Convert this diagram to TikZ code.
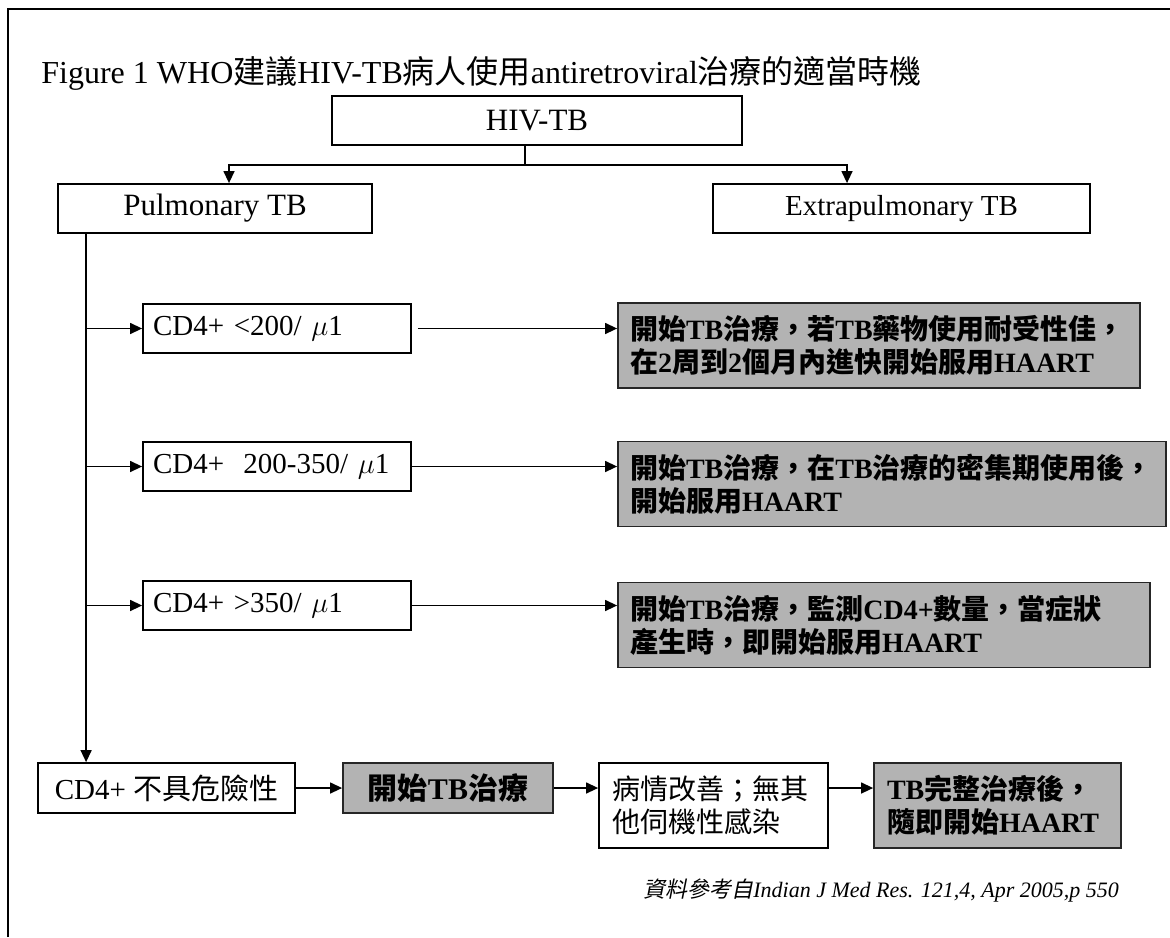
\documentclass[tikz,border=0pt]{standalone}
\usepackage{fontspec}
\setmainfont{Liberation Serif}
\newfontfamily\cjk{Noto Sans CJK TC}
\newfontfamily\cjkslant[FakeSlant=0.2]{Noto Sans CJK TC}
\usetikzlibrary{arrows.meta,positioning}
\definecolor{boxgray}{RGB}{179,179,179}
\newcommand{\zh}[1]{{\cjk #1}}

\begin{document}
\begin{tikzpicture}[x=0.5pt,y=-0.5pt,
    plainbox/.style={draw,line width=0.9pt,inner sep=0pt,minimum height=24.5pt,
      font=\fontsize{15.5}{17}\selectfont},
    leftbox/.style={plainbox,align=left,inner xsep=5pt,text width=124pt,
      font=\fontsize{14.5}{16.5}\selectfont},
    graybox/.style={draw=black!85,fill=boxgray,line width=0.9pt,align=left,
      inner xsep=6pt,inner ysep=0pt,minimum height=42.5pt,
      font=\fontsize{14}{16.5}\selectfont\bfseries},
    link/.style={line width=0.7pt,-{Triangle[length=6pt,width=5.5pt]}}]
    \useasboundingbox (0,0) rectangle (1170,937);

    % Frame round the figure (left and top edges only)
    \draw[line width=0.8pt] (8,937) -- (8,9) -- (1170,9);

    % Title
    \node[anchor=base west,inner sep=0pt,font=\fontsize{16}{18}\selectfont] (title) at (41,83)
      {Figure 1 WHO\zh{建議}HIV-TB\zh{病人使用}antiretroviral\zh{治療的適當時機}};

    % Top level: HIV-TB and its two kinds
    \node[plainbox,minimum width=205pt] (hiv) at (537,120.5) {HIV-TB};
    \node[plainbox,minimum width=157pt] (pulm) at (215,208.5) {Pulmonary TB};
    \node[plainbox,minimum width=188.5pt,font=\fontsize{14.5}{16.5}\selectfont] (extra) at (901.5,208.5) {Extrapulmonary TB};

    \coordinate (fork) at ([xshift=-6pt,yshift=-9.5pt]hiv.south);
    \draw[line width=0.7pt] ([xshift=-6pt]hiv.south) -- (fork);
    \draw[link] (fork) -| ([xshift=7pt]pulm.north);
    \draw[link] (fork) -| ([xshift=-27.25pt]extra.north);

    % CD4+ counts under pulmonary TB
    \node[leftbox] (cd4low) at (277,328.5) {\mbox{CD4+ <200/ $\mu$1}};
    \node[leftbox] (cd4mid) at (277,466.5) {\mbox{CD4+\ \ 200-350/ $\mu$1}};
    \node[leftbox] (cd4high) at (277,605.5) {\mbox{CD4+ >350/ $\mu$1}};

    % What to do for each count
    \node[graybox,text width=249pt] (dolow) at (879,345.5)
      {\zh{開始}TB\zh{治療，若}TB\zh{藥物使用耐受性佳，}\\\zh{在}2\zh{周到}2\zh{個月內進快開始服用}HAART};
    \node[graybox,text width=262pt] (domid) at (892,484)
      {\zh{開始}TB\zh{治療，在}TB\zh{治療的密集期使用後，}\\\zh{開始服用}HAART};
    \node[graybox,text width=254pt] (dohigh) at (884,625)
      {\zh{開始}TB\zh{治療，監測}CD4+\zh{數量，當症狀}\\\zh{產生時，即開始服用}HAART};

    % Trunk down the left side with its branches
    \coordinate (trunk) at ([xshift=14.5pt]pulm.south west);
    \node[plainbox,minimum width=128.5pt,minimum height=25pt,font=\fontsize{14.5}{16.5}\selectfont] (safe) at (166.5,788)
      {CD4+ \zh{不具危險性}};
    \draw[link] (trunk) -- (trunk |- safe.north);
    \foreach \b in {cd4low,cd4mid,cd4high}
      \draw[link] (trunk |- \b.west) -- (\b.west);

    \draw[link,shorten <=3pt] (cd4low.east) -- (cd4low.east -| dolow.west);
    \draw[link] (cd4mid.east) -- (cd4mid.east -| domid.west);
    \draw[link] (cd4high.east) -- (cd4high.east -| dohigh.west);

    % Bottom row: the steps when CD4+ is not at risk
    \node[graybox,align=center,text width=93pt,minimum height=25pt,font=\fontsize{15}{17}\selectfont\bfseries] (start) at (448,788)
      {\zh{開始}TB\zh{治療}};
    \node[plainbox,align=left,inner xsep=6.5pt,text width=101.5pt,minimum height=42.5pt,font=\fontsize{14}{16.5}\selectfont] (better) at (713.5,805.5)
      {\zh{病情改善；無其}\\\zh{他伺機性感染}};
    \node[graybox,inner xsep=6.5pt,text width=110.5pt] (finish) at (997.5,805.5)
      {TB\zh{完整治療後，}\\\zh{隨即開始}HAART};

    \draw[link] (safe.east) -- (safe.east -| start.west);
    \draw[link] (start.east) -- (start.east -| better.west);
    \draw[link] (start.east -| better.east) -- (start.east -| finish.west);

    % Source
    \node[anchor=west,inner sep=0pt,font=\fontsize{11}{13}\selectfont] (source) at (643,891)
      {{\cjkslant 資料參考自}\textit{Indian J Med Res. 121,4, Apr 2005,p 550}};
\end{tikzpicture}
\end{document}
